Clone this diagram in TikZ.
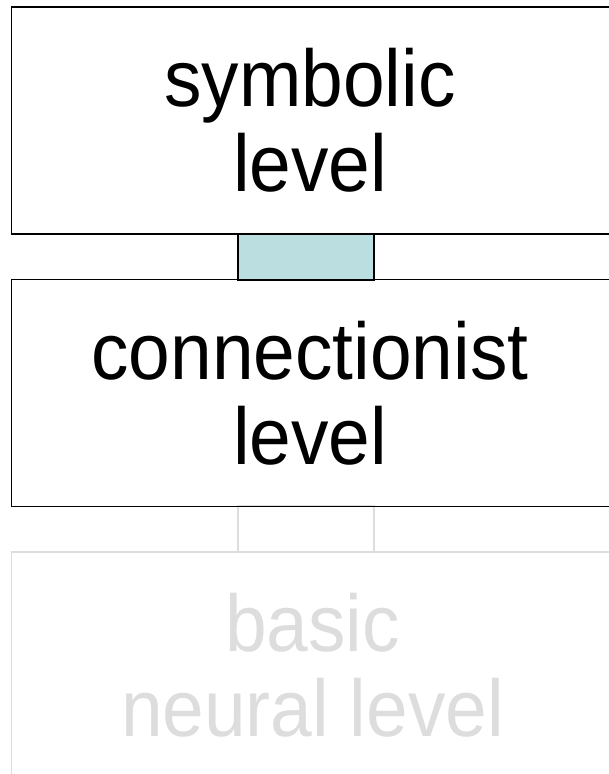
\documentclass[tikz,border=0pt]{standalone}
\usepackage{fontspec}
\setmainfont[FakeStretch=0.93]{Liberation Sans}
\definecolor{linkfill}{HTML}{BBDFE1}
\definecolor{faint}{HTML}{DDDDDD}
\begin{document}
\begin{tikzpicture}[x=1pt,y=-1pt,
  levelbox/.style={draw=black,line width=1.5pt,rectangle,inner sep=0pt,
    minimum width=620pt,minimum height=227pt},
  leveltext/.style={align=center,inner sep=0pt,xshift=-11.5pt,
    font=\fontsize{80.5}{85}\selectfont},
  fadedbox/.style={levelbox,draw=faint},
  linkbox/.style={draw=black,line width=1.5pt,fill=linkfill,rectangle,inner sep=0pt,
    minimum width=136pt,minimum height=46pt},
  fadedlink/.style={linkbox,draw=faint,fill=none}]
\useasboundingbox (0,0) rectangle (608,774);
\node[fadedlink] (l2) at (306,528.5) {};
\node[fadedbox,label={[leveltext,text=faint,xshift=2.5pt]center:{basic\\neural level}}] (neu) at (321.5,665.5) {};
\node[levelbox,label={[leveltext]center:{symbolic\\level}}] (sym) at (321.5,120.5) {};
\node[levelbox,label={[leveltext]center:{connectionist\\level}}] (con) at (321.5,393) {};
\node[linkbox] (l1) at (306,257) {};
\end{tikzpicture}
\end{document}
